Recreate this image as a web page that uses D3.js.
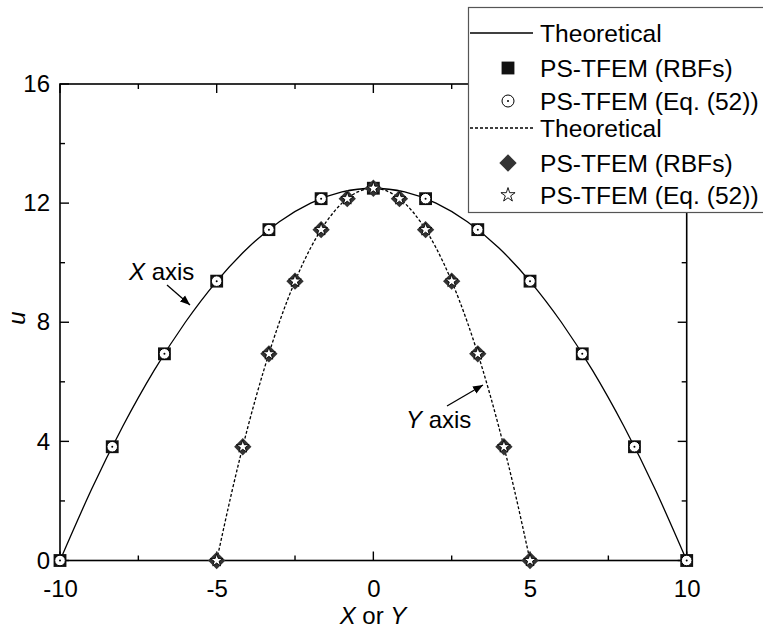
<!DOCTYPE html>
<html><head><meta charset="utf-8">
<script src="https://cdn.jsdelivr.net/npm/d3@7"></script>
<style>
body{margin:0;background:#fff}
svg{display:block;font-family:"Liberation Sans",Arial,sans-serif}
</style></head>
<body>
<svg id="chart" width="763" height="630"></svg>
<script>
// ---- data ----
const theoXpos = [-10,-9,-8,-7,-6,-5,-4,-3,-2,-1,0,1,2,3,4,5,6,7,8,9,10];
const theoXval = [0,2.375,4.5,6.375,8,9.375,10.5,11.375,12,12.375,12.5,12.375,12,11.375,10.5,9.375,8,6.375,4.5,2.375,0];
const theoYpos = [-5,-4.5,-4,-3.5,-3,-2.5,-2,-1.5,-1,-0.5,0,0.5,1,1.5,2,2.5,3,3.5,4,4.5,5];
const theoYval = [0,2.375,4.5,6.375,8,9.375,10.5,11.375,12,12.375,12.5,12.375,12,11.375,10.5,9.375,8,6.375,4.5,2.375,0];
const markXpos = [-10,-8.333,-6.667,-5,-3.333,-1.667,0,1.667,3.333,5,6.667,8.333,10];
const rbfXval  = [0,3.82,6.94,9.38,11.11,12.15,12.5,12.15,11.11,9.38,6.94,3.82,0];
const eqXval   = [0,3.82,6.94,9.38,11.11,12.15,12.5,12.15,11.11,9.38,6.94,3.82,0];
const markYpos = [-5,-4.167,-3.333,-2.5,-1.667,-0.833,0,0.833,1.667,2.5,3.333,4.167,5];
const rbfYval  = [0,3.82,6.94,9.38,11.11,12.15,12.5,12.15,11.11,9.38,6.94,3.82,0];
const eqYval   = [0,3.82,6.94,9.38,11.11,12.15,12.5,12.15,11.11,9.38,6.94,3.82,0];
const xTicks = [-10,-5,0,5,10];
const xMinor = [-7.5,-2.5,2.5,7.5];
const yTicks = [0,4,8,12,16];
const yMinor = [2,6,10,14];
const legendLabels = ["Theoretical","PS-TFEM (RBFs)","PS-TFEM (Eq. (52))","Theoretical","PS-TFEM (RBFs)","PS-TFEM (Eq. (52))"];

// ---- layout ----
const svg = d3.select("#chart");
const L=60, R=686.7, T=84, B=560.5;
const x = d3.scaleLinear().domain([-10,10]).range([L,R]);
const y = d3.scaleLinear().domain([0,16]).range([B,T]);
const FS = 24;

// lines
const line = d3.line().x(d=>x(d[0])).y(d=>y(d[1])).curve(d3.curveNatural);
svg.append("path").attr("d", line(d3.zip(theoXpos,theoXval)))
  .attr("fill","none").attr("stroke","#000").attr("stroke-width",1.3);
svg.append("path").attr("d", line(d3.zip(theoYpos,theoYval)))
  .attr("fill","none").attr("stroke","#000").attr("stroke-width",1.3).attr("stroke-dasharray","3,2");

// frame axes
const fmt = d => String(d);
const gx = svg.append("g").attr("transform",`translate(0,${B})`)
  .call(d3.axisBottom(x).tickValues(xTicks).tickSize(0).tickPadding(14).tickFormat(fmt));
const gy = svg.append("g").attr("transform",`translate(${L},0)`)
  .call(d3.axisLeft(y).tickValues(yTicks).tickSize(0).tickPadding(10).tickFormat(fmt));
[gx,gy].forEach(g=>{g.select(".domain").remove(); g.selectAll("text").attr("font-size",FS).attr("font-family","Liberation Sans, Arial").attr("fill","#000");});
gx.selectAll("text").attr("dy","0.95em");

svg.append("rect").attr("x",L).attr("y",T).attr("width",R-L).attr("height",B-T)
  .attr("fill","none").attr("stroke","#000").attr("stroke-width",1.6);
const tk = svg.append("g").attr("stroke","#000").attr("stroke-width",1.4);
xTicks.forEach(v=>{tk.append("line").attr("x1",x(v)).attr("x2",x(v)).attr("y1",B).attr("y2",B-9);
  tk.append("line").attr("x1",x(v)).attr("x2",x(v)).attr("y1",T).attr("y2",T+9);});
xMinor.forEach(v=>{tk.append("line").attr("x1",x(v)).attr("x2",x(v)).attr("y1",B).attr("y2",B-5);
  tk.append("line").attr("x1",x(v)).attr("x2",x(v)).attr("y1",T).attr("y2",T+5);});
yTicks.forEach(v=>{tk.append("line").attr("y1",y(v)).attr("y2",y(v)).attr("x1",L).attr("x2",L+9);
  tk.append("line").attr("y1",y(v)).attr("y2",y(v)).attr("x1",R).attr("x2",R-9);});
yMinor.forEach(v=>{tk.append("line").attr("y1",y(v)).attr("y2",y(v)).attr("x1",L).attr("x2",L+5);
  tk.append("line").attr("y1",y(v)).attr("y2",y(v)).attr("x1",R).attr("x2",R-5);});

// marker helpers
const sq = d3.symbol().type(d3.symbolSquare).size(165)();
const dia = d3.symbol().type(d3.symbolSquare).size(150)();
const star = d3.symbol().type(d3.symbolStar).size(50)();
const starL = d3.symbol().type(d3.symbolStar).size(62)();
function squareMark(g){ g.append("path").attr("d",sq).attr("fill","#111"); }
function circleMark(g, r){ g.append("circle").attr("r",r||5.3).attr("fill","#fff").attr("stroke","#000").attr("stroke-width",1);
  g.append("circle").attr("r",1).attr("fill","#000"); }
function diamondMark(g){ g.append("path").attr("d",dia).attr("transform","rotate(45)").attr("fill","#333"); }
function starMark(g, p){ g.append("path").attr("d",p||star).attr("fill","#fff").attr("stroke","#000").attr("stroke-width",0.9).attr("stroke-linejoin","miter"); }

function drawMarks(xs, vs, fn){
  d3.zip(xs,vs).forEach(d=>{ fn(svg.append("g").attr("transform",`translate(${x(d[0])},${y(d[1])})`)); });
}
drawMarks(markXpos, rbfXval, squareMark);
drawMarks(markXpos, eqXval, g=>circleMark(g));
drawMarks(markYpos, rbfYval, diamondMark);
drawMarks(markYpos, eqYval, g=>starMark(g));

// axis titles
const xl = svg.append("text").attr("x",373).attr("y",624).attr("text-anchor","middle").attr("font-size",FS);
xl.append("tspan").attr("font-style","italic").text("X");
xl.append("tspan").text(" or ");
xl.append("tspan").attr("font-style","italic").text("Y");
svg.append("text").attr("transform","translate(25,318) rotate(-90)").attr("text-anchor","middle")
  .attr("font-size",FS).attr("font-style","italic").text("u");

// annotations
const defs = svg.append("defs");
defs.append("marker").attr("id","arr").attr("viewBox","0 0 10 10").attr("refX",10).attr("refY",5)
  .attr("markerWidth",10).attr("markerHeight",10).attr("markerUnits","userSpaceOnUse").attr("orient","auto")
  .append("path").attr("d","M0,1 L10,5 L0,9 z").attr("fill","#000");
const a1 = svg.append("text").attr("x",129).attr("y",280).attr("font-size",FS);
a1.append("tspan").attr("font-style","italic").text("X");
a1.append("tspan").text(" axis");
svg.append("line").attr("x1",167).attr("y1",285).attr("x2",190).attr("y2",305)
  .attr("stroke","#000").attr("stroke-width",1.3).attr("marker-end","url(#arr)");
const a2 = svg.append("text").attr("x",406).attr("y",428).attr("font-size",FS);
a2.append("tspan").attr("font-style","italic").text("Y");
a2.append("tspan").text(" axis");
svg.append("line").attr("x1",447).attr("y1",406).attr("x2",483).attr("y2",385)
  .attr("stroke","#000").attr("stroke-width",1.3).attr("marker-end","url(#arr)");

// legend
const lg = svg.append("g");
lg.append("rect").attr("x",468.5).attr("y",7.5).attr("width",310).attr("height",205)
  .attr("fill","#fff").attr("stroke","#555").attr("stroke-width",1.2);
const rowY = [33,68,101,128,163,195];
legendLabels.forEach((t,i)=>{
  lg.append("text").attr("x",540).attr("y",rowY[i]).attr("dy","0.35em").attr("font-size",FS+0.6).text(t);
});
lg.append("line").attr("x1",470).attr("x2",533).attr("y1",rowY[0]).attr("y2",rowY[0]).attr("stroke","#000").attr("stroke-width",1.3);
lg.append("line").attr("x1",470).attr("x2",533).attr("y1",rowY[3]).attr("y2",rowY[3]).attr("stroke","#000").attr("stroke-width",1.3).attr("stroke-dasharray","3,2");
squareMark(lg.append("g").attr("transform",`translate(508,${rowY[1]})`));
circleMark(lg.append("g").attr("transform",`translate(508,${rowY[2]})`), 6);
diamondMark(lg.append("g").attr("transform",`translate(508,${rowY[4]})`));
starMark(lg.append("g").attr("transform",`translate(508,${rowY[5]})`), starL);
</script>
</body></html>
